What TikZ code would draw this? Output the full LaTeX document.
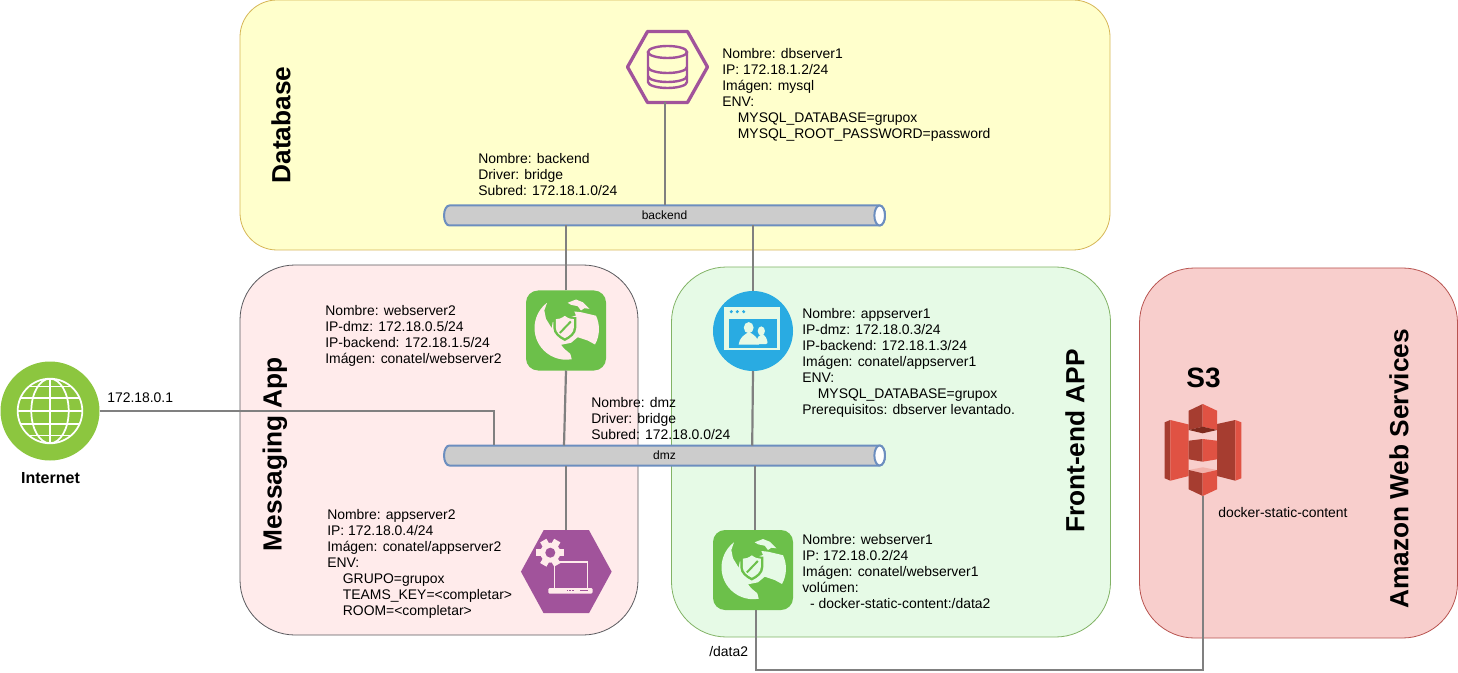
\documentclass[tikz,border=0pt]{standalone}
\usepackage{fontspec}
\setmainfont{Liberation Sans}

\definecolor{dbfill}{HTML}{FFFFCC}
\definecolor{dbdraw}{HTML}{D6B656}
\definecolor{msgfill}{HTML}{FFEBEB}
\definecolor{msgdraw}{HTML}{5A5A5E}
\definecolor{frontfill}{HTML}{E6FAE6}
\definecolor{frontdraw}{HTML}{82B366}
\definecolor{awsfill}{HTML}{F8CECC}
\definecolor{awsdraw}{HTML}{B85450}
\definecolor{tubefill}{HTML}{CCCCCC}
\definecolor{tubedraw}{HTML}{6C8EBF}
\definecolor{linkgray}{HTML}{808080}
\definecolor{webgreen}{HTML}{6CC04A}
\definecolor{appblue}{HTML}{29ABE2}
\definecolor{hexpurple}{HTML}{A1539B}
\definecolor{netgreen}{HTML}{8CC63F}
\definecolor{s3light}{HTML}{E05243}
\definecolor{s3dark}{HTML}{A63D30}
\definecolor{s3deep}{HTML}{7F2A1E}
\definecolor{s3pale}{HTML}{F2B0A9}

\def\pxu{.75pt}
\newcommand{\envtab}{\hspace*{11.7pt}}
\newcommand{\hexpath}[2]{(#1.west) -- ([xshift=#2]#1.north west) -- ([xshift=-#2]#1.north east) -- (#1.east) -- ([xshift=-#2]#1.south east) -- ([xshift=#2]#1.south west) -- cycle}
\newcommand{\tubepath}[1]{([xshift=4pt]#1.north west) -- ([xshift=-4pt]#1.north east) arc[start angle=-90,end angle=90,x radius=5.3,y radius=10] -- ([xshift=4pt]#1.south west) arc[start angle=90,end angle=270,x radius=5.3,y radius=10] -- cycle}
\def\shieldpath{(0,-1) .. controls (-.4,-.75) and (-.7,-.7) .. (-1,-.7) -- (-1,.05) .. controls (-1,.5) and (-.5,.8) .. (0,1) .. controls (.5,.8) and (1,.5) .. (1,.05) -- (1,-.7) .. controls (.7,-.7) and (.4,-.75) .. (0,-1) -- cycle}

\tikzset{
    pics/shieldglobe/.style={code={
        \fill[#1] (-19,-27.7) arc[start angle=232.7,end angle=80,radius=31.7] -- (4.3,23.3) -- (-1.7,18.3) -- (-5,14.3) -- (5,12.3) -- (11.7,6.7) -- (21.7,10) -- (29,14) arc[start angle=29,end angle=-25,radius=31.7] -- (15,-18.3) -- (8.3,-19) -- (10,-15) -- (-13.3,-8.3) -- (-14.3,-2.3) -- (-20,-11.7) -- (-21.7,-20) -- cycle;
        \fill[#1] (1.7,-27.7) -- (10,-31) -- (16.7,-28.3) -- (23.3,-21.7) -- (18.3,-22.3) -- (15,-20) -- (11.7,-24.3) -- (5,-25.7) -- cycle;
        \begin{scope}[shift={(-1.2,-3.5)}]
            \fill[webgreen,xscale=11.5,yscale=14] \shieldpath;
            \fill[#1,xscale=9,yscale=11.2] \shieldpath;
            \draw[webgreen,line width=1.5pt] (-5,6) -- (6,-5.5);
        \end{scope}
    }},
    pics/peoplewindow/.style={code={
        \fill[#1] (-29.3,-24.3) rectangle (27.3,19);
        \fill[appblue] (-24.3,-12.3) rectangle (24,16.7);
        \foreach \x in {-21.7,-15.7,-9.3} {
            \fill[appblue] (\x,-19.3) circle (1.7);
        };
        \fill[#1] (-4.3,-3.3) ellipse (4.9 and 5.6);
        \fill[#1] (-14.3,13.5) .. controls (-14,7) and (-8,3) .. (-4,1) .. controls (0,3) and (6,7) .. (6,13.5) -- cycle;
        \fill[#1] (8.3,0) ellipse (3.6 and 4.6);
        \fill[#1] (3,13) .. controls (4,6) and (6,4) .. (9,3) .. controls (12,4) and (14.5,8) .. (14.5,12) -- (13,13) -- cycle;
    }},
    pics/gearlaptop/.style={code={
        \draw[#1,line width=.8pt] (-12,16) -- (-12,-9.7) -- (21.3,-9.7) -- (21.3,16);
        \fill[#1,rounded corners=1pt] (-18,16.3) rectangle (26.3,22);
        \foreach \x in {0.5,3,6} {
            \fill[hexpurple] (\x,18) rectangle +(1.5,1.5);
        };
        \fill[hexpurple] (14,18) rectangle (22,19.5);
        \begin{scope}[shift={(-16,-19)}]
            \fill[#1] (0,0) circle (10);
            \foreach \a in {0,60,...,300} {
                \fill[#1,rotate=\a] (0,-3.6) rectangle (14,3.6);
            };
            \fill[hexpurple] (0,0) circle (5);
        \end{scope}
    }},
    pics/dbstack/.style={code={
        \draw[hexpurple,line width=1.8pt] (-19.5,-15) -- (-19.5,15) arc[start angle=180,end angle=0,x radius=19.5,y radius=6] -- (19.5,-15);
        \draw[hexpurple,line width=1.8pt] (0,-15) ellipse (19.5 and 6);
        \draw[hexpurple,line width=1.8pt] (-19.5,0) arc[start angle=180,end angle=0,x radius=19.5,y radius=6];
        \draw[hexpurple,line width=1.8pt] (-19.5,9) arc[start angle=180,end angle=0,x radius=19.5,y radius=6];
    }},
    pics/netglobe/.style={code={
        \begin{scope}
            \clip (0,0) circle (32.3);
            \foreach \y in {-24.5,-13.3,0,13.3,24.5} {
                \draw[white,line width=1.3pt] (-33,\y) -- (33,\y);
            };
            \draw[white,line width=1.3pt] (0,-33) -- (0,33);
            \draw[white,line width=1.3pt] (0,0) ellipse (18.7 and 32.3);
        \end{scope}
        \draw[white,line width=1.3pt] (0,0) circle (32.3);
    }},
    pics/bucket/.style={code={
        \fill[s3dark] (-38.3,-27.7) -- (-32.7,-30) -- (-32.7,30.7) -- (-38.3,28.3) -- cycle;
        \fill[s3light] (-32.7,-30) -- (-14.3,-25.5) -- (-14.3,26) -- (-32.7,30.7) -- cycle;
        \fill[s3dark] (14,-26) -- (32.3,-30) -- (32.3,30.7) -- (14,26) -- cycle;
        \fill[s3light] (32.3,-30) -- (38.3,-27.7) -- (38.3,28.3) -- (32.3,30.7) -- cycle;
        \fill[s3dark] (-14.3,-39.3) -- (-.3,-46) -- (-.3,-23.3) -- (-14.3,-20) -- cycle;
        \fill[s3light] (-.3,-46) -- (14,-39.3) -- (14,-20) -- (-.3,-23.3) -- cycle;
        \fill[s3deep] (-14.3,-20) -- (-.3,-23.3) -- (14,-20) -- (-.3,-16.7) -- cycle;
        \fill[s3dark] (-14.3,-9.3) -- (-.3,-11) -- (-.3,11.7) -- (-14.3,9.3) -- cycle;
        \fill[s3light] (-.3,-11) -- (14,-9.3) -- (14,9.3) -- (-.3,11.7) -- cycle;
        \fill[s3pale] (-14.3,20) -- (-.3,17.3) -- (14,20) -- (-.3,23.3) -- cycle;
        \fill[s3dark] (-14.3,20) -- (-.3,23.3) -- (-.3,46) -- (-14.3,39.3) -- cycle;
        \fill[s3light] (-.3,23.3) -- (14,20) -- (14,39.3) -- (-.3,46) -- cycle;
    }}
}

\begin{document}
\begin{tikzpicture}[x=.75pt,y=-.75pt]
        \tikzstyle{panel}=[draw,line width=.8*\pxu,inner sep=0,outer sep=0]
        \tikzstyle{paneltitle}=[rotate=90,inner sep=0,font=\fontsize{19.7}{22}\selectfont\bfseries]
        \tikzstyle{ghost}=[inner sep=0,outer sep=0]
        \tikzstyle{tube}=[ghost,minimum width=441*\pxu,minimum height=20*\pxu]
        \tikzstyle{tubeline}=[draw=tubedraw,line width=2*\pxu,line join=round]
        \tikzstyle{tubelabel}=[inner sep=0,font=\fontsize{9}{10}\selectfont]
        \tikzstyle{link}=[draw=linkgray,line width=2.2*\pxu]
        \tikzstyle{info}=[anchor=north west,align=left,inner sep=0,font=\fontsize{10.45}{12}\selectfont]
        \tikzstyle{webicon}=[fill=webgreen,rounded corners=12*\pxu,minimum size=80*\pxu,inner sep=0,outer sep=0]

        \useasboundingbox (0,0) rectangle (1458,673);

        %the four areas
        \foreach \name/\cx/\cy/\w/\h/\rad/\fillc/\drawc in {
            dbarea/675/125/870/250/37/dbfill/dbdraw,
            msgarea/439/450/398/370/55/msgfill/msgdraw,
            frontarea/891/452/439/370/55/frontfill/frontdraw,
            awsarea/1298.5/453/318/370/55/awsfill/awsdraw} {
            \node [panel,fill=\fillc,draw=\drawc,rounded corners=\rad*\pxu,minimum width=\w*\pxu,minimum height=\h*\pxu] (\name) at (\cx,\cy) {};
        };

        \node [paneltitle] (dbtitle) at (281,125) {Database};
        \node [paneltitle] (msgtitle) at (275,454) {Messaging App};
        \node [paneltitle] (fronttitle) at (1075,441) {Front-end APP};
        \node [paneltitle] (awstitle) at (1399,469) {Amazon Web Services};

        %the two networks
        \foreach \name/\cy in {backend/215.5,dmz/455.5} {
            \node [tube] (\name) at (664.5,\cy) {};
            \fill [tubefill] \tubepath{\name};
            \draw [tubeline] \tubepath{\name};
            \draw [tubeline,fill=white] ([xshift=-4pt]\name.east) ellipse (5.3 and 10);
            \node [tubelabel] (\name_label) at (664.5,\cy) {\name};
        };

        %icons
        \node [ghost,minimum width=80*\pxu,minimum height=71*\pxu] (db) at (667.5,67) {};
        \draw [hexpurple,line width=3.3*\pxu,line join=round] \hexpath{db}{15pt};
        \pic at (db) {dbstack};

        \node [webicon] (web2) at (566,330.5) {};
        \pic at (web2) {shieldglobe=msgfill};

        \node [circle,fill=appblue,minimum size=80*\pxu,inner sep=0,outer sep=0] (app1) at (753,331) {};
        \pic at (app1) {peoplewindow=frontfill};

        \node [ghost,minimum width=90.7*\pxu,minimum height=83*\pxu] (app2) at (566.3,571.7) {};
        \fill [hexpurple] \hexpath{app2}{17pt};
        \pic at (app2) {gearlaptop=msgfill};

        \node [webicon] (web1) at (753,570) {};
        \pic at (web1) {shieldglobe=frontfill};

        \node [circle,fill=netgreen,minimum size=99*\pxu,inner sep=0,outer sep=0] (internet) at (50,411) {};
        \pic at (internet) {netglobe};

        \node [ghost,minimum width=77*\pxu,minimum height=92*\pxu] (s3) at (1203,450) {};
        \pic at (s3) {bucket};

        %connectors
        \coordinate (dmzdrop) at (494,445);
        \coordinate (s3bend) at (1203,670);
        \path [link] ([xshift=-1.9pt]db.south) -- ([xshift=-1.9pt]db.south |- backend.north);
        \path [link] (web2.north) -- (web2.north |- backend.south);
        \path [link] (app1.north) -- (app1.north |- backend.south);
        \path [link] (web2.south) -- ([xshift=-1.5pt]web2.south |- dmz.north);
        \path [link] (app1.south) -- ([xshift=-.6pt]app1.south |- dmz.north);
        \path [link] (app2.north) -- (app2.north |- dmz.south);
        \path [link] ([xshift=1.2pt]web1.north) -- ([xshift=1.2pt]web1.north |- dmz.south);
        \path [link] (internet.east) -| (dmzdrop);
        \path [link] ([xshift=2.5pt]web1.south) |- (s3bend) -- (s3.south);

        %texts
        \node [info] (dbinfo) at (722,48) {Nombre: dbserver1\\IP: 172.18.1.2/24\\Imágen: mysql\\ENV:\\\envtab MYSQL\_DATABASE=grupox\\\envtab MYSQL\_ROOT\_PASSWORD=password};
        \node [info] (backendinfo) at (478,153) {Nombre: backend\\Driver: bridge\\Subred: 172.18.1.0/24};
        \node [info] (web2info) at (325,305) {Nombre: webserver2\\IP-dmz: 172.18.0.5/24\\IP-backend: 172.18.1.5/24\\Imágen: conatel/webserver2};
        \node [info] (app1info) at (802,308) {Nombre: appserver1\\IP-dmz: 172.18.0.3/24\\IP-backend: 172.18.1.3/24\\Imágen: conatel/appserver1\\ENV:\\\envtab MYSQL\_DATABASE=grupox\\Prerequisitos: dbserver levantado.};
        \node [info] (dmzinfo) at (591,397) {Nombre: dmz\\Driver: bridge\\Subred: 172.18.0.0/24};
        \node [info] (app2info) at (327,509) {Nombre: appserver2\\IP: 172.18.0.4/24\\Imágen: conatel/appserver2\\ENV:\\\envtab GRUPO=grupox\\\envtab TEAMS\_KEY=<completar>\\\envtab ROOM=<completar>};
        \node [info] (web1info) at (802,534) {Nombre: webserver1\\IP: 172.18.0.2/24\\Imágen: conatel/webserver1\\volúmen:\\\hspace*{5.8pt}- docker-static-content:/data2};
        \node [info] (gwlabel) at (107,393) {172.18.0.1};
        \node [info] (bucketlabel) at (1218,507) {docker-static-content};
        \node [info] (mountlabel) at (709,646) {/data2};
        \node [inner sep=0,font=\fontsize{12}{14}\selectfont\bfseries] (internetlabel) at (50.5,478) {Internet};
        \node [inner sep=0,font=\fontsize{21}{24}\selectfont\bfseries] (s3label) at (1203.5,378) {S3};
\end{tikzpicture}
\end{document}
